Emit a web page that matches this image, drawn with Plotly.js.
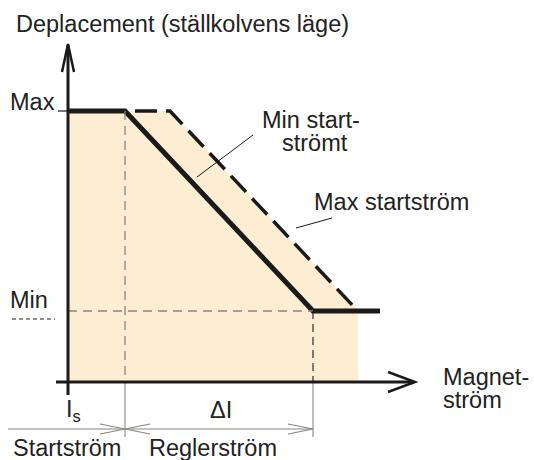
<!DOCTYPE html>
<html><head><meta charset="utf-8">
<script src="https://cdn.plot.ly/plotly-3.0.1.min.js"></script>
<style>html,body{margin:0;padding:0;background:#fff}#chart{width:534px;height:460px}</style>
</head><body><div id="chart"></div>
<script>
// Schematic units: x = magnet current, y = displacement (origin at axes crossing)
const levelNames = ["Max", "Min"];
const levelValues = [271, 71];           // Max, Min displacement
const minStartX = [0, 57, 245, 312];     // Min startström curve
const minStartY = [271, 271, 71, 71];
const maxStartX = [67, 102, 287];        // Max startström curve (dashed)
const maxStartY = [271, 271, 74];
const fillX = [0, 102, 290, 290];        // shaded operating band
const fillY = [271, 271, 71, 0];
const currentMarks = [57, 245];          // I_s and I_s + ΔI
const minStartLabel = ["Min start-", "strömt"];
const maxStartLabel = "Max startström";
const xAxisLabel = ["Magnet-", "ström"];
const yAxisLabel = "Deplacement (ställkolvens läge)";
const bottomLabels = ["Startström", "Reglerström"];
const deltaLabels = ["I<sub>s</sub>", "ΔI"];

// pixel helpers for layout placement only
const X0 = 68, Y0 = 382;
const px = p => p - X0;
const py = p => Y0 - p;

const FONT = {family: "Liberation Sans, Arial, sans-serif", size: 23.5, color: "#222222"};
const INK = "#1a1a1a", GREY = "#8a8580";

const traces = [
  {x: fillX, y: fillY, mode: "lines", line: {width: 0}, fill: "tozeroy", fillcolor: "#FDEDD2", hoverinfo: "skip"},
  {x: maxStartX, y: maxStartY, mode: "lines", line: {color: INK, width: 3.5, dash: "22px,9px"}, hoverinfo: "skip"},
  {x: minStartX, y: minStartY, mode: "lines", line: {color: INK, width: 5}, hoverinfo: "skip"}
];

function seg(x0, y0, x1, y1, color, width, dash) {
  return {type: "line", xref: "x", yref: "y", x0: x0, y0: y0, x1: x1, y1: y1, line: {color: color, width: width, dash: dash || "solid"}, layer: "above"};
}
function path(pts, color, width) {
  return {type: "path", xref: "x", yref: "y", path: "M " + pts.map(p => p[0] + "," + p[1]).join(" L "), line: {color: color, width: width}};
}

const shapes = [
  // guide dashed lines
  seg(0, levelValues[1], currentMarks[1], levelValues[1], GREY, 1.3, "9px,6px"),
  seg(currentMarks[0], levelValues[0], currentMarks[0], 0, GREY, 1.3, "9px,6px"),
  seg(currentMarks[1], levelValues[1], currentMarks[1], 0, INK, 1.1, "8px,5px"),
  seg(currentMarks[0], 0, currentMarks[0], py(437), GREY, 1.1),
  seg(currentMarks[1], 0, currentMarks[1], py(437), GREY, 1.1),
  // axes
  seg(0, py(395), 0, py(45), INK, 3),
  seg(px(56), 0, px(414), 0, INK, 3),
  // arrowheads
  path([[px(62), py(72)], [0, py(44)], [px(74), py(72)]], INK, 2.5),
  path([[px(388), py(372)], [px(415), 0], [px(388), py(392)]], INK, 2.5),
  // Max tick
  seg(px(58), levelValues[0], 0, levelValues[0], INK, 1.2),
  // small dash under Min
  seg(px(12), py(319), px(55), py(319), INK, 1, "4px,3px"),
  // dimension line
  seg(px(8), py(429), currentMarks[1], py(429), GREY, 1.1),
  path([[px(100), py(424)], [currentMarks[0], py(429)], [px(100), py(434)]], GREY, 1.1),
  path([[px(150), py(424)], [currentMarks[0], py(429)], [px(150), py(434)]], GREY, 1.1),
  path([[px(288), py(424)], [currentMarks[1], py(429)], [px(288), py(434)]], GREY, 1.1),
  // leader lines
  seg(px(253), py(135), px(197), py(177), INK, 1),
  seg(px(332), py(218), px(296), py(228), INK, 1)
];

function ann(text, x, y, xanchor) {
  return {text: text, x: x, y: y, xref: "x", yref: "y", xanchor: xanchor || "left", yanchor: "middle", showarrow: false, font: FONT};
}

const annotations = [
  ann(yAxisLabel, px(14), py(24)),
  ann(levelNames[0], px(8), py(102)),
  ann(levelNames[1], px(8), py(300)),
  ann(minStartLabel[0], px(311), py(120), "center"),
  ann(minStartLabel[1], px(315), py(143), "center"),
  ann(maxStartLabel, px(312), py(202)),
  ann(xAxisLabel[0], px(441), py(377)),
  ann(xAxisLabel[1], px(441), py(400)),
  ann(deltaLabels[0], px(73), py(410), "center"),
  ann(deltaLabels[1], px(221), py(410), "center"),
  ann(bottomLabels[0], px(11), py(448)),
  ann(bottomLabels[1], px(147), py(448))
];

const layout = {
  width: 534, height: 460,
  margin: {l: 0, r: 0, t: 0, b: 0},
  paper_bgcolor: "#fff", plot_bgcolor: "#fff",
  showlegend: false,
  xaxis: {range: [-X0, 534 - X0], visible: false, fixedrange: true},
  yaxis: {range: [Y0 - 460, Y0], visible: false, fixedrange: true},
  shapes: shapes,
  annotations: annotations
};

Plotly.newPlot("chart", traces, layout, {staticPlot: true, displayModeBar: false});
</script></body></html>
